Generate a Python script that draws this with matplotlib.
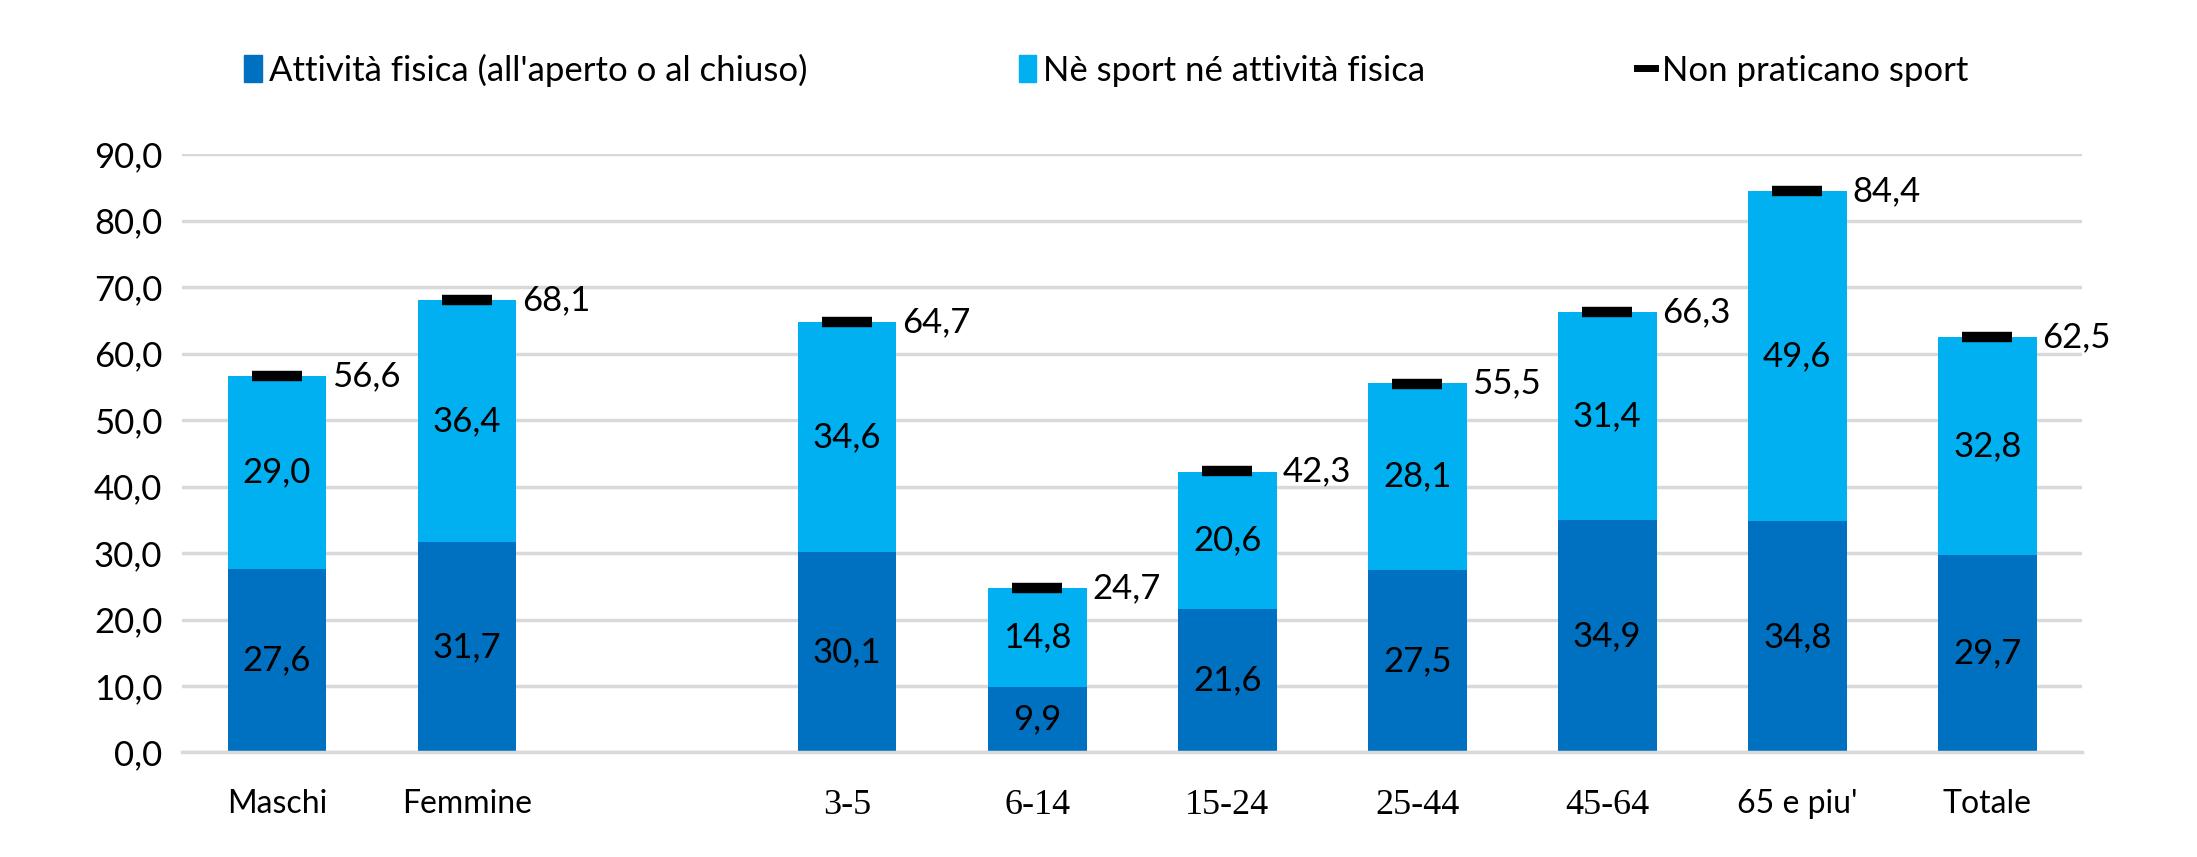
import numpy as np
import matplotlib.pyplot as plt
import matplotlib.transforms as mtransforms
from matplotlib.lines import Line2D
from matplotlib.patches import Patch

categories = ['Maschi', 'Femmine', '', '3-5', '6-14', '15-24', '25-44', '45-64', "65 e piu'", 'Totale']
serif_labels = ['3-5', '6-14', '15-24', '25-44', '45-64']
attivita = [27.6, 31.7, np.nan, 30.1, 9.9, 21.6, 27.5, 34.9, 34.8, 29.7]
ne_sport = [29.0, 36.4, np.nan, 34.6, 14.8, 20.6, 28.1, 31.4, 49.6, 32.8]
non_praticano = [56.6, 68.1, np.nan, 64.7, 24.7, 42.3, 55.5, 66.3, 84.4, 62.5]

dark = '#0070C0'
light = '#00B0F0'
plt.rcParams['font.family'] = ['Lato', 'DejaVu Sans']
plt.rcParams['font.serif'] = ['Liberation Serif', 'DejaVu Serif']

def fmt(v):
    return f'{v:.1f}'.replace('.', ',')

fig = plt.figure(figsize=(21.97, 8.57), dpi=100)
ax = fig.add_axes([0.0828, 0.122, 0.865, 0.698])

x = np.arange(len(categories))
w = 0.52
ax.bar(x, attivita, w, color=dark, zorder=2)
ax.bar(x, ne_sport, w, bottom=attivita, color=light, zorder=2)
ax.plot(x, non_praticano, linestyle='none', marker='_', markersize=36,
        markeredgewidth=7.5, color='black', zorder=3)

for xi, a, b, t in zip(x, attivita, ne_sport, non_praticano):
    if np.isnan(a):
        continue
    ax.text(xi, a / 2, fmt(a), ha='center', va='center', fontsize=25)
    ax.text(xi, a + b / 2, fmt(b), ha='center', va='center', fontsize=25)
    ax.text(xi + w / 2 + 0.03, t, fmt(t), ha='left', va='center', fontsize=25)

ax.set_xlim(-0.5, len(categories) - 0.5)
ax.set_ylim(0, 90)
ax.set_yticks(np.arange(0, 91, 10))
ax.set_yticklabels([fmt(v) for v in np.arange(0, 91, 10)], fontsize=25)
ax.set_xticks(x)
ax.set_xticklabels([])
ax.tick_params(axis='both', length=0)
ax.tick_params(axis='y', pad=14)

# category labels; the age classes are set in a serif face in the original
lab_tr = mtransforms.offset_copy(ax.get_xaxis_transform(), fig=fig, y=-26, units='points')
for xi, name in zip(x, categories):
    if name in serif_labels:
        ax.text(xi, 0, name, transform=lab_tr, ha='center', va='top',
                fontsize=26, family='serif')
    else:
        ax.text(xi, 0, name, transform=lab_tr, ha='center', va='top', fontsize=23)

ax.grid(axis='y', color='#D9D9D9', linewidth=2.5, zorder=0)
for s in ['top', 'right', 'left']:
    ax.spines[s].set_visible(False)
ax.spines['bottom'].set_color('#D9D9D9')
ax.spines['bottom'].set_linewidth(2.5)

handles = [Patch(color=dark), Patch(color=light),
           Line2D([], [], color='black', linewidth=5)]
labels = ["Attività fisica (all'aperto o al chiuso)", 'Nè sport né attività fisica', 'Non praticano sport']
fig.legend(handles, labels, loc='center left', bbox_to_anchor=(0.097, 0.918), ncol=3,
           frameon=False, prop={'size': 25}, handlelength=0.5,
           handleheight=0.8, handletextpad=0.2, columnspacing=6.1)

fig.savefig('out.png', dpi=100)
